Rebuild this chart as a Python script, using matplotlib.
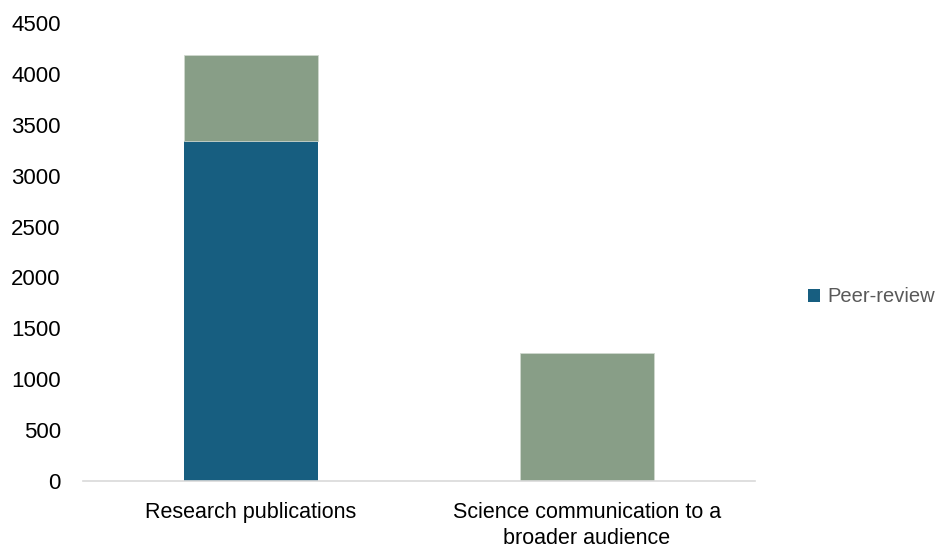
import matplotlib
matplotlib.use("Agg")
import matplotlib.pyplot as plt
import numpy as np

categories = ["Research publications", "Science communication to a\nbroader audience"]
peer_review = [3340, 0]
other = [845, 1258]
yticks = [0, 500, 1000, 1500, 2000, 2500, 3000, 3500, 4000, 4500]

blue = "#175E80"
green = "#889E87"

plt.rcParams["font.family"] = ["Liberation Sans", "DejaVu Sans"]

fig = plt.figure(figsize=(9.41, 5.49), dpi=100)
ax = fig.add_axes([83 / 941, 1 - 481 / 549, (755 - 83) / 941, (481 - 23) / 549])

x = np.arange(len(categories))
bars_blue = ax.bar(x, peer_review, width=0.40, color=blue, zorder=2)
ax.bar(x, other, width=0.40, bottom=peer_review, color=green, zorder=2,
       edgecolor="#D0D8CF", linewidth=0.6)

ax.set_xlim(-0.5, 1.5)
ax.set_ylim(0, 4500)
ax.set_yticks(yticks)
ax.set_yticklabels([str(t) for t in yticks], fontsize=16, color="#000000")
ax.tick_params(axis="y", length=0, pad=16)
ax.set_xticks(x)
ax.set_xticklabels(categories, fontsize=15.5, color="#000000", linespacing=1.3)
ax.tick_params(axis="x", length=0, pad=15)

for s in ["top", "right", "left"]:
    ax.spines[s].set_visible(False)
ax.spines["bottom"].set_color("#D9D9D9")
ax.spines["bottom"].set_linewidth(1.2)

fig.legend([bars_blue], ["Peer-review"], loc="center left",
           bbox_to_anchor=(808 / 941, 1 - 297 / 549), frameon=False,
           borderaxespad=0, borderpad=0,
           fontsize=14.5, labelcolor="#595959", handlelength=0.62,
           handleheight=0.62, handletextpad=0.35)

fig.savefig("out.png", dpi=100)
